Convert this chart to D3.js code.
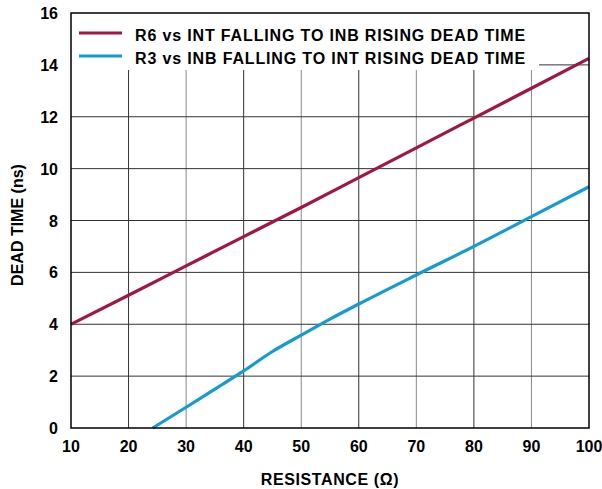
<!DOCTYPE html>
<html><head><meta charset="utf-8">
<script src="https://cdn.jsdelivr.net/npm/d3@7"></script>
<style>body{margin:0;background:#fff}svg{display:block}text{font-family:"Liberation Sans",Arial,sans-serif;font-weight:bold;fill:#000}</style>
</head><body><svg id="c" width="602" height="489"></svg>
<script>
const xTicks=[10,20,30,40,50,60,70,80,90,100];
const yTicks=[0,2,4,6,8,10,12,14,16];
const r6X=[10,20,30,40,50,60,70,80,90,100];
const r6Y=[4.0,5.12,6.25,7.38,8.5,9.65,10.8,11.95,13.1,14.25];
const r3X=[24.2,30,35,40,45,50,55,60,70,80,90,100];
const r3Y=[0,0.8,1.5,2.2,2.95,3.58,4.2,4.78,5.9,7.0,8.15,9.3];
const seriesNames=["R6 vs INT FALLING TO INB RISING DEAD TIME","R3 vs INB FALLING TO INT RISING DEAD TIME"];
const colors=["#a3173f","#139bd2"];

const svg=d3.select("#c");
const L=71,R=589,T=13,B=428;
const x=d3.scaleLinear().domain([10,100]).range([L,R]);
const y=d3.scaleLinear().domain([0,16]).range([B,T]);
const legBottom=70, legRight=539;

// grid
const g=svg.append("g");
xTicks.slice(1,-1).forEach((v,i)=>{
  g.append("line").attr("x1",x(v)).attr("x2",x(v)).attr("y1",B).attr("y2",legBottom)
   .attr("stroke",i%2===0?"#333":"#8a8a8a").attr("stroke-width",1);
});
yTicks.slice(1,-1).forEach(v=>{
  const yy=y(v);
  const x1 = yy<legBottom ? legRight : L;
  g.append("line").attr("x1",x1).attr("x2",R).attr("y1",yy).attr("y2",yy)
   .attr("stroke","#333").attr("stroke-width",1);
});

const line=d3.line().x(d=>x(d[0])).y(d=>y(d[1])).curve(d3.curveMonotoneX);
svg.append("path").datum(d3.zip(r6X,r6Y)).attr("d",line).attr("fill","none").attr("stroke",colors[0]).attr("stroke-width",3.2);
svg.append("path").datum(d3.zip(r3X,r3Y)).attr("d",line).attr("fill","none").attr("stroke",colors[1]).attr("stroke-width",3.2);

// frame
svg.append("rect").attr("x",L).attr("y",T).attr("width",R-L).attr("height",B-T).attr("fill","none").attr("stroke","#000").attr("stroke-width",1.5);

// legend
seriesNames.forEach((n,i)=>{
  const yy=33+i*23;
  svg.append("line").attr("x1",79).attr("x2",122).attr("y1",yy).attr("y2",yy).attr("stroke",colors[i]).attr("stroke-width",3.2);
  svg.append("text").attr("x",135).attr("y",yy+8).attr("font-size",16).attr("letter-spacing",0.85).text(n);
});

// ticks
svg.selectAll(".yt").data(yTicks).enter().append("text").attr("x",58).attr("y",d=>y(d)+6)
  .attr("text-anchor","end").attr("font-size",16).text(d=>d);
svg.selectAll(".xt").data(xTicks).enter().append("text").attr("x",d=>x(d)).attr("y",452)
  .attr("text-anchor","middle").attr("font-size",16).text(d=>d);

svg.append("text").attr("x",330).attr("y",485).attr("text-anchor","middle").attr("font-size",16).attr("letter-spacing",0.6).text("RESISTANCE (Ω)");
svg.append("text").attr("transform","translate(23,225) rotate(-90)").attr("text-anchor","middle").attr("font-size",16).text("DEAD TIME (ns)");
</script></body></html>
